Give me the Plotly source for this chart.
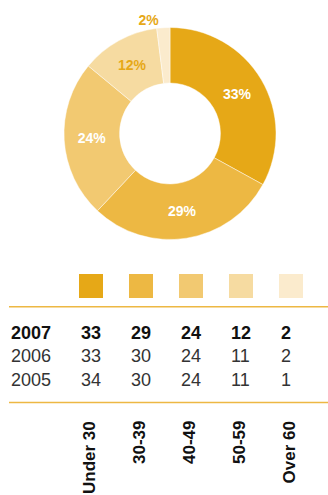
import plotly.graph_objects as go

categories = ["Under 30", "30-39", "40-49", "50-59", "Over 60"]
values_2007 = [33, 29, 24, 12, 2]
values_2006 = [33, 30, 24, 11, 2]
values_2005 = [34, 30, 24, 11, 1]
years = ["2007", "2006", "2005"]
colors = ["#E6A817", "#EDB843", "#F2C971", "#F6DBA1", "#FBEBCD"]

W, H = 328, 495
FONT = "Liberation Sans, Arial, sans-serif"
GOLD = "#E6A817"

fig = go.Figure()

# Donut
cx, cy, r = 170, 133.5, 106
fig.add_trace(go.Pie(
    values=values_2007,
    labels=categories,
    sort=False,
    direction="clockwise",
    rotation=0,
    hole=0.476,
    marker=dict(colors=colors, line=dict(color="rgba(255,255,255,0.45)", width=1)),
    texttemplate="%{value}%",
    textposition=["inside", "inside", "inside", "inside", "outside"],
    insidetextorientation="horizontal",
    insidetextfont=dict(family=FONT, size=14, color=["white", "white", "white", GOLD, GOLD], weight="bold"),
    outsidetextfont=dict(family=FONT, size=14, color=GOLD, weight="bold"),
    hoverinfo="skip",
    showlegend=False,
    domain=dict(x=[(cx - r) / W, (cx + r) / W], y=[1 - (cy + r) / H, 1 - (cy - r) / H]),
))

# pixel-like axes: column index i -> px 91 + 50 i
px0, step = 91, 50
def col(px):
    return (px - px0) / step

idx = list(range(len(categories)))
fig.add_trace(go.Scatter(
    x=idx, y=[286] * len(idx), mode="markers",
    marker=dict(symbol="square", size=24, color=colors, line=dict(width=0)),
    hoverinfo="skip", showlegend=False,
))

annotations = []
rows_y = [332.5, 356.2, 379.8]
row_vals = [values_2007, values_2006, values_2005]
for k, (yr, vals, yy) in enumerate(zip(years, row_vals, rows_y)):
    bold = k == 0
    fcol = "#111111" if bold else "#333333"
    annotations.append(dict(
        x=col(9), y=yy, xref="x", yref="y", text=f"<b>{yr}</b>" if bold else yr,
        showarrow=False, xanchor="left", yanchor="middle",
        font=dict(family=FONT, size=18, color=fcol)))
    for i, v in enumerate(vals):
        annotations.append(dict(
            x=i - 12 / step, y=yy, xref="x", yref="y",
            text=f"<b>{v}</b>" if bold else str(v),
            showarrow=False, xanchor="left", yanchor="middle",
            font=dict(family=FONT, size=18, color=fcol)))

for i, c in enumerate(categories):
    annotations.append(dict(
        x=i - 2 / step, y=419.5, xref="x", yref="y", text=f"<b>{c}</b>",
        showarrow=False, textangle=-90, xanchor="center", yanchor="top",
        font=dict(family=FONT, size=17, color="#111111")))

shapes = [
    dict(type="line", xref="paper", yref="y", x0=9 / W, x1=1, y0=306.7, y1=306.7,
         line=dict(color="#EDB843", width=1.5)),
    dict(type="line", xref="paper", yref="y", x0=9 / W, x1=1, y0=402.5, y1=402.5,
         line=dict(color="#EDB843", width=1.5)),
]

fig.update_layout(
    width=W, height=H,
    margin=dict(l=0, r=0, t=0, b=0),
    paper_bgcolor="white", plot_bgcolor="rgba(0,0,0,0)",
    xaxis=dict(range=[col(0), col(W)], visible=False, fixedrange=True),
    yaxis=dict(range=[H, 0], visible=False, fixedrange=True),
    annotations=annotations,
    shapes=shapes,
    showlegend=False,
)

fig.write_html("out.html")
